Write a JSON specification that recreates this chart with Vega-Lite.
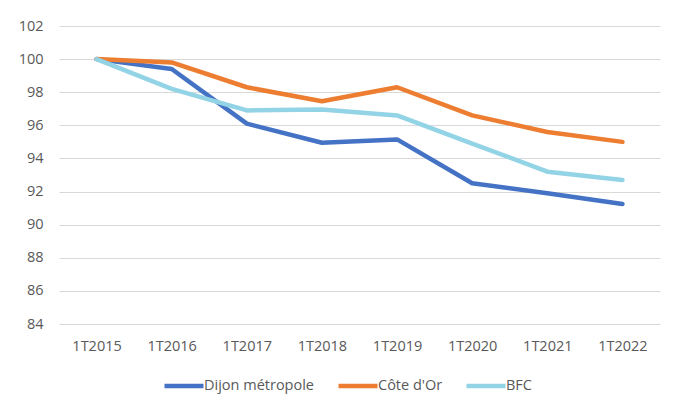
{
  "$schema": "https://vega.github.io/schema/vega-lite/v6.json",
  "width": 601,
  "height": 298,
  "autosize": {"type": "none"},
  "padding": {"left": 59, "top": 26, "right": 15, "bottom": 83},
  "background": "white",
  "config": {
    "view": {"stroke": null},
    "font": "Open Sans",
    "axis": {"labelFont": "Open Sans", "labelColor": "#595959", "labelFontSize": 14.5}
  },
  "data": {
    "values": [
      {"trimestre": "1T2015", "serie": "Dijon métropole", "indice": 100},
      {"trimestre": "1T2016", "serie": "Dijon métropole", "indice": 99.4},
      {"trimestre": "1T2017", "serie": "Dijon métropole", "indice": 96.1},
      {"trimestre": "1T2018", "serie": "Dijon métropole", "indice": 94.95},
      {"trimestre": "1T2019", "serie": "Dijon métropole", "indice": 95.15},
      {"trimestre": "1T2020", "serie": "Dijon métropole", "indice": 92.5},
      {"trimestre": "1T2021", "serie": "Dijon métropole", "indice": 91.9},
      {"trimestre": "1T2022", "serie": "Dijon métropole", "indice": 91.25},
      {"trimestre": "1T2015", "serie": "Côte d'Or", "indice": 100},
      {"trimestre": "1T2016", "serie": "Côte d'Or", "indice": 99.8},
      {"trimestre": "1T2017", "serie": "Côte d'Or", "indice": 98.3},
      {"trimestre": "1T2018", "serie": "Côte d'Or", "indice": 97.45},
      {"trimestre": "1T2019", "serie": "Côte d'Or", "indice": 98.3},
      {"trimestre": "1T2020", "serie": "Côte d'Or", "indice": 96.6},
      {"trimestre": "1T2021", "serie": "Côte d'Or", "indice": 95.6},
      {"trimestre": "1T2022", "serie": "Côte d'Or", "indice": 95.0},
      {"trimestre": "1T2015", "serie": "BFC", "indice": 100},
      {"trimestre": "1T2016", "serie": "BFC", "indice": 98.2},
      {"trimestre": "1T2017", "serie": "BFC", "indice": 96.9},
      {"trimestre": "1T2018", "serie": "BFC", "indice": 96.95},
      {"trimestre": "1T2019", "serie": "BFC", "indice": 96.6},
      {"trimestre": "1T2020", "serie": "BFC", "indice": 94.9},
      {"trimestre": "1T2021", "serie": "BFC", "indice": 93.2},
      {"trimestre": "1T2022", "serie": "BFC", "indice": 92.7}
    ]
  },
  "mark": {"type": "line", "strokeWidth": 4.5, "strokeCap": "round", "strokeJoin": "round"},
  "encoding": {
    "x": {
      "field": "trimestre", "type": "ordinal", "title": null,
      "scale": {"type": "point", "padding": 0.5},
      "axis": {"labelAngle": 0, "domain": false, "ticks": false, "grid": false, "labelPadding": 15}
    },
    "y": {
      "field": "indice", "type": "quantitative", "title": null,
      "scale": {"domain": [84, 102], "zero": false, "nice": false},
      "axis": {"values": [84, 86, 88, 90, 92, 94, 96, 98, 100, 102], "domain": false, "ticks": false, "grid": true, "gridColor": "#D9D9D9", "gridWidth": 1, "labelPadding": 16}
    },
    "color": {
      "field": "serie", "type": "nominal", "title": null,
      "sort": ["Dijon métropole", "Côte d'Or", "BFC"],
      "scale": {"domain": ["Dijon métropole", "Côte d'Or", "BFC"], "range": ["#4472C4", "#ED7D31", "#92D3E6"]},
      "legend": {
        "orient": "none", "legendX": 103, "legendY": 338, "direction": "horizontal",
        "symbolType": "stroke", "symbolSize": 1521, "symbolStrokeWidth": 4.5,
        "labelFontSize": 14.5, "labelColor": "#595959", "labelFont": "Open Sans",
        "labelOffset": -2, "columnPadding": 14
      }
    },
    "order": {"field": "serie"}
  }
}
